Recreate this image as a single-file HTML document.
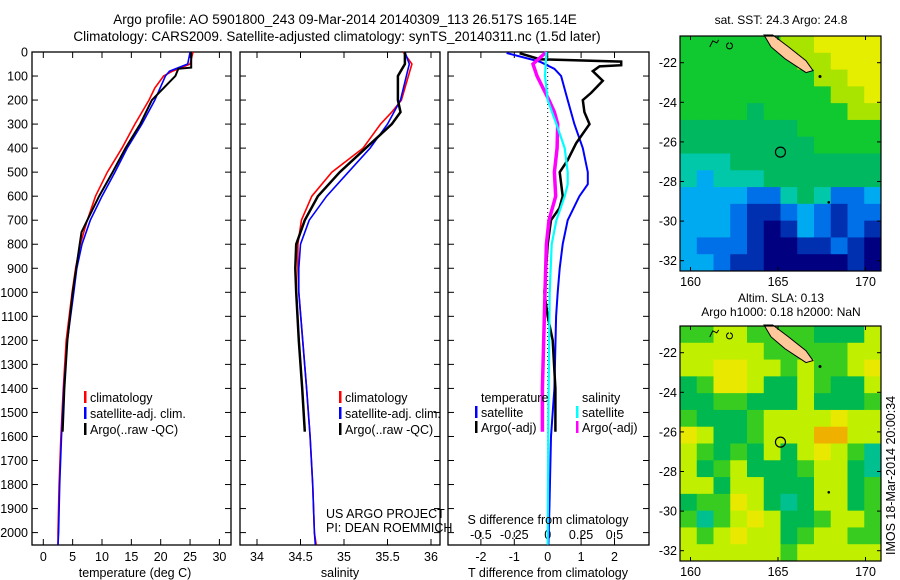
<!DOCTYPE html>
<html><head><meta charset="utf-8"><style>
html,body{margin:0;padding:0;background:#fff;}
svg{display:block;font-family:"Liberation Sans",sans-serif;}
text{font-size:12.5px;fill:#000;}
</style></head><body>
<svg id="chart" width="900" height="580" viewBox="0 0 900 580" xmlns="http://www.w3.org/2000/svg">
<text x="345" y="24" text-anchor="middle" style="font-size:13.5px">Argo profile: AO 5901800_243 09-Mar-2014 20140309_113 26.517S 165.14E</text>
<text x="337" y="41" text-anchor="middle" style="font-size:13.5px">Climatology: CARS2009. Satellite-adjusted climatology: synTS_20140311.nc (1.5d later)</text>
<g id="plots"></g>
<g id="maps"></g>
<text x="326" y="518">US ARGO PROJECT</text>
<text x="326" y="532">PI: DEAN ROEMMICH</text>
<text x="548" y="524" text-anchor="middle">S difference from climatology</text>
<text x="781" y="24" text-anchor="middle" style="font-size:12px">sat. SST: 24.3 Argo: 24.8</text>
<text x="781" y="302" text-anchor="middle" style="font-size:12px">Altim. SLA: 0.13</text>
<text x="781" y="316" text-anchor="middle" style="font-size:12px">Argo h1000: 0.18 h2000: NaN</text>
<text transform="translate(895,555) rotate(-90)" x="0" y="0">IMOS 18-Mar-2014 20:00:34</text>
</svg>
<script>
// ---- data ----
const tClimDepth=[0,50,80,100,150,200,300,400,500,600,700,800,900,1000,1200,1400,1600,1800,2000,2050];
const tClim=[25.5,25,22,20.5,19,18,15.6,13.4,10.9,8.9,7.5,6.3,5.5,4.9,3.9,3.4,3.0,2.7,2.5,2.5];
const tSatDepth=[0,50,80,100,200,300,400,500,600,700,800,900,1000,1200,1400,1600,1800,2000,2050];
const tSat=[25,24.6,21.5,20.8,19.0,16.8,14.3,12.2,10.0,8.0,6.6,5.7,5.2,4.1,3.5,3.1,2.8,2.6,2.5];
const tArgoDepth=[0,65,70,100,200,300,400,500,600,700,750,800,1000,1200,1400,1580];
const tArgo=[25.2,25.2,23,22.5,18.5,16.5,14,11.8,9.5,7.5,6.5,6.2,5.0,4.1,3.6,3.3];
const sClimDepth=[0,50,200,250,300,400,500,600,700,800,900,1000,1400,1600,1800,2000,2050];
const sClim=[35.68,35.78,35.66,35.55,35.42,35.22,34.86,34.63,34.51,34.47,34.47,34.48,34.57,34.61,34.64,34.66,34.68];
const sSatDepth=[0,50,200,300,400,500,600,700,800,900,1000,1400,1600,1800,2000,2050];
const sSat=[35.7,35.75,35.65,35.5,35.3,35.05,34.8,34.6,34.5,34.48,34.48,34.57,34.61,34.64,34.66,34.67];
const sArgoDepth=[0,50,100,200,250,300,400,500,600,700,800,900,1000,1200,1400,1580];
const sArgo=[35.7,35.7,35.62,35.62,35.65,35.55,35.25,34.95,34.7,34.55,34.45,34.44,34.45,34.48,34.52,34.55];
const dTSatDepth=[4,40,70,100,200,300,400,500,550,600,700,800,900,1000,1100,1400,1600,1900,2050];
const dTSat=[-1.23,-0.24,0.2,0.4,0.6,0.8,1.05,1.2,1.2,0.95,0.6,0.45,0.36,0.3,0.25,0.2,0.1,0.05,0.02];
const dTArgoDepth=[5,30,40,55,60,80,120,170,200,250,300,380,450,500,600,650,700,800,1000,1100,1200,1400,1580];
const dTArgo=[-0.84,-0.24,2.2,2.2,1.55,1.35,1.65,1.3,1.05,1.1,1.25,0.85,0.6,0.36,0.45,0.35,0.1,0.0,-0.1,0.0,0.15,0.23,0.23];
const dSSatDepth=[0,100,200,300,400,500,550,600,700,800,1000,1500,2050];
const dSSat=[-0.01,-0.02,0,0.065,0.127,0.15,0.15,0.127,0.065,0.03,0.015,0.005,0];
const dSArgoDepth=[0,50,100,200,250,300,400,500,600,700,800,1000,1200,1400,1580];
const dSArgo=[-0.01,-0.11,-0.08,0.01,0.05,0.075,0.07,0.05,0.06,0.01,-0.01,-0.02,-0.03,-0.04,-0.04];
const depthTicks=[0,100,200,300,400,500,600,700,800,900,1000,1100,1200,1300,1400,1500,1600,1700,1800,1900,2000];
const tTicks=[0,5,10,15,20,25,30];
const sTicks=[34,34.5,35,35.5,36];
const dtTicks=[-2,-1,0,1,2];
const dsTicks=[-0.5,-0.25,0,0.25,0.5];
const dsTickLabels=["-0.5","-0.25","0","0.25","0.5"];
const latTicks=[-22,-24,-26,-28,-30,-32];
const lonTicks=[160,165,170];
const sstRows=["GGGGGGLLYYYY","GGGGGGGLLYYY","GGGGGGGGLLYY","GGGGGGGGGLLY","GGGGMGGGGGLL","MMMMMMMGGGGG","MMMMMMMMGGGG","TTTMMMMMMMMM","TCTTTMMMMMMM","CCCCBBTMTBBC","CCCBDDBCBDBB","CCCBDNDCBDBD","CBBBDNNDDBDN","CCBDDNNNNNDN"];
const slaRows=["GGLLGGGGMMML","LLLLLGGGGGLL","LLYYLLGLGGLY","MGYYLMMLGMML","MMGGMMMLMMMG","GMMMGLLLLYLL","YLMMGLLLOOLL","LGMGMLMLYLGT","LMGLMMMGLLMT","LLMLLMMMLLMG","MGGYLMTMLLMG","GTGLYLMMGLLG","LGLYLLMGLLGG","LLLLLLGLLLLL"];
const argoLon=165.14, argoLat=-26.517;

// ---- helpers ----
const NS="http://www.w3.org/2000/svg";
const plots=document.getElementById('plots'), maps=document.getElementById('maps');
function mk(tag,attrs,parent){const e=document.createElementNS(NS,tag);for(const k in attrs)e.setAttribute(k,attrs[k]);(parent||plots).appendChild(e);return e;}
const yD=d=>52+d*0.2403;
const PT=0,PB=545;
const panels=[{l:32,r:231,x:v=>43.3+v*5.87},{l:240,r:440,x:v=>257+(v-34)*87},{l:448,r:649,x:v=>547.7+v*33.4}];
const xS3=v=>547.7+v*133.6;
function line(xf,ds,vs,color,w,name){
  let p=ds.map((d,i)=>xf(vs[i]).toFixed(1)+','+yD(d).toFixed(1)).join(' ');
  const e=mk('polyline',{points:p,fill:'none',stroke:color,'stroke-width':w});
  
  
}
// frames & ticks
panels.forEach((P,pi)=>{
  const f=mk('rect',{x:P.l,y:52,width:P.r-P.l,height:PB-52,fill:'none',stroke:'#000','stroke-width':1.3});
  
  
  depthTicks.forEach(d=>{
    mk('line',{x1:P.l,x2:P.l+6,y1:yD(d),y2:yD(d),stroke:'#000'});
    mk('line',{x1:P.r-6,x2:P.r,y1:yD(d),y2:yD(d),stroke:'#000'});
  });
});
depthTicks.forEach(d=>{
  const t=mk('text',{x:28,y:yD(d)+4.5,'text-anchor':'end'});t.textContent=d;
  
  
});
function xticks(P,ticks,labels,fn){
  ticks.forEach((v,i)=>{const x=fn(v);
    mk('line',{x1:x,x2:x,y1:PB,y2:PB-6,stroke:'#000'});mk('line',{x1:x,x2:x,y1:52,y2:58,stroke:'#000'});
    const t=mk('text',{x:x,y:561,'text-anchor':'middle'});t.textContent=labels[i];
    
    
  });
}
xticks(panels[0],tTicks,tTicks.map(String),panels[0].x);
xticks(panels[1],sTicks,sTicks.map(String),panels[1].x);
xticks(panels[2],dtTicks,dtTicks.map(String),panels[2].x);
dsTicks.forEach((v,i)=>{const x=xS3(v);
  mk('line',{x1:x,x2:x,y1:537,y2:532,stroke:'#000'});
  const t=mk('text',{x:x,y:539,'text-anchor':'middle'});t.textContent=dsTickLabels[i];
  
  
});
[['temperature (deg C)',135],['salinity',340],['T difference from climatology',548]].forEach(a=>{
  const t=mk('text',{x:a[1],y:577,'text-anchor':'middle'});t.textContent=a[0];
  
  
});
// zero dotted line
mk('line',{x1:547.7,x2:547.7,y1:52,y2:545,stroke:'#000','stroke-dasharray':'1,3'});
// series
line(panels[0].x,tClimDepth,tClim,'#f00',1.6,'temp-climatology-line');
line(panels[0].x,tSatDepth,tSat,'#00f',1.6,'temp-satellite-line');
line(panels[0].x,tArgoDepth,tArgo,'#000',2,'temp-argo-line');
line(panels[1].x,sClimDepth,sClim,'#f00',1.6,'sal-climatology-line');
line(panels[1].x,sSatDepth,sSat,'#00f',1.6,'sal-satellite-line');
line(panels[1].x,sArgoDepth,sArgo,'#000',2.5,'sal-argo-line');
line(panels[2].x,dTSatDepth,dTSat,'#00f',2,'dt-satellite-line');
line(panels[2].x,dTArgoDepth,dTArgo,'#000',2.5,'dt-argo-line');
line(xS3,dSArgoDepth,dSArgo,'#f0f',3.5,'ds-argo-line');
line(xS3,dSSatDepth,dSSat,'#0ff',2.2,'ds-satellite-line');
// legends
function leg(x,y,c,txt,name){
  if(c)mk('rect',{x:x-6,y:y-11,width:2.5,height:12,fill:c});
  const t=mk('text',{x:x,y:y});t.textContent=txt;
  
  
}
[[90,'climatology','#f00'],[90,'satellite-adj. clim.','#00f'],[90,'Argo(..raw -QC)','#000']].forEach((a,i)=>leg(a[0],402+i*16,a[2],a[1],'legend-entry-temp'));
[[345,'climatology','#f00'],[345,'satellite-adj. clim.','#00f'],[345,'Argo(..raw -QC)','#000']].forEach((a,i)=>leg(a[0],402+i*16,a[2],a[1],'legend-entry-sal'));
leg(481,402,null,'temperature','legend-header-temperature');
leg(481,417,'#00f','satellite','legend-entry-t-sat');
leg(481,432,'#000','Argo(-adj)','legend-entry-t-argo');
leg(582,402,null,'salinity','legend-header-salinity');
leg(582,417,'#0ff','satellite','legend-entry-s-sat');
leg(582,432,'#f0f','Argo(-adj)','legend-entry-s-argo');

// ---- maps ----
const pal={Y:'#e6ee00',L:'#a8e400',G:'#10c830',M:'#00b860',T:'#00c8a8',C:'#00aaf0',B:'#0070e8',D:'#0030b0',N:'#000080',O:'#f0b400'};
const pal2={Y:'#e8e800',L:'#c0f000',G:'#38cc20',M:'#00b850',T:'#00c090',O:'#f0b000'};
function drawMap(oy,rows,p,name){
  const L=680,R=881,T=36+oy,B=271+oy;
  const mx=lon=>690.5+(lon-160)*17.5, my=lat=>62.7+oy+(-22-lat)*19.8;
  const cw=(R-L)/rows[0].length, ch=(B-T)/rows.length;
  rows.forEach((row,r)=>{[...row].forEach((k,c)=>{
    const e=mk('rect',{x:L+c*cw,y:T+r*ch,width:cw+0.5,height:ch+0.5,fill:p[k]},maps);
    
    
  });});
  const nc=[[164.2,-20.6],[164.7,-20.6],[165.6,-21.2],[166.6,-21.9],[167.0,-22.4],[166.6,-22.5],[165.4,-21.8],[164.6,-21.2]];
  const land=mk('polygon',{points:nc.map(q=>mx(q[0])+','+my(q[1])).join(' '),fill:'#ffc89a',stroke:'#000','stroke-width':1},maps);
  
  
  mk('circle',{cx:mx(167.4),cy:my(-22.7),r:1.5,fill:'#000'},maps);
  mk('circle',{cx:mx(167.9),cy:my(-29.05),r:1.3,fill:'#000'},maps);
  mk('path',{d:`M${mx(161.1)},${my(-21.2)} l3,-6 l4,2 l2,-3 M${mx(162.2)},${my(-21.0)} a3,3 0 1,0 1,0`,fill:'none',stroke:'#000'},maps);
  const ci=mk('circle',{cx:mx(argoLon),cy:my(argoLat),r:5,fill:'none',stroke:'#000','stroke-width':1.2},maps);
  
  
  const fr=mk('rect',{x:L,y:T,width:R-L,height:B-T,fill:'none',stroke:'#000','stroke-width':1.2},maps);
  
  
  latTicks.forEach(v=>{const y=my(v);
    mk('line',{x1:L,x2:L+4,y1:y,y2:y,stroke:'#000'},maps);mk('line',{x1:R-4,x2:R,y1:y,y2:y,stroke:'#000'},maps);
    const t=mk('text',{x:677,y:y+4.5,'text-anchor':'end'},maps);t.textContent=v;
    
    
  });
  lonTicks.forEach(v=>{const x=mx(v);
    mk('line',{x1:x,x2:x,y1:B,y2:B-4,stroke:'#000'},maps);mk('line',{x1:x,x2:x,y1:T,y2:T+4,stroke:'#000'},maps);
    const t=mk('text',{x:x,y:B+15,'text-anchor':'middle'},maps);t.textContent=v;
    
    
  });
}
drawMap(0,sstRows,pal,'sst-map');
drawMap(290,slaRows,pal2,'sla-map');
</script>
</body></html>
